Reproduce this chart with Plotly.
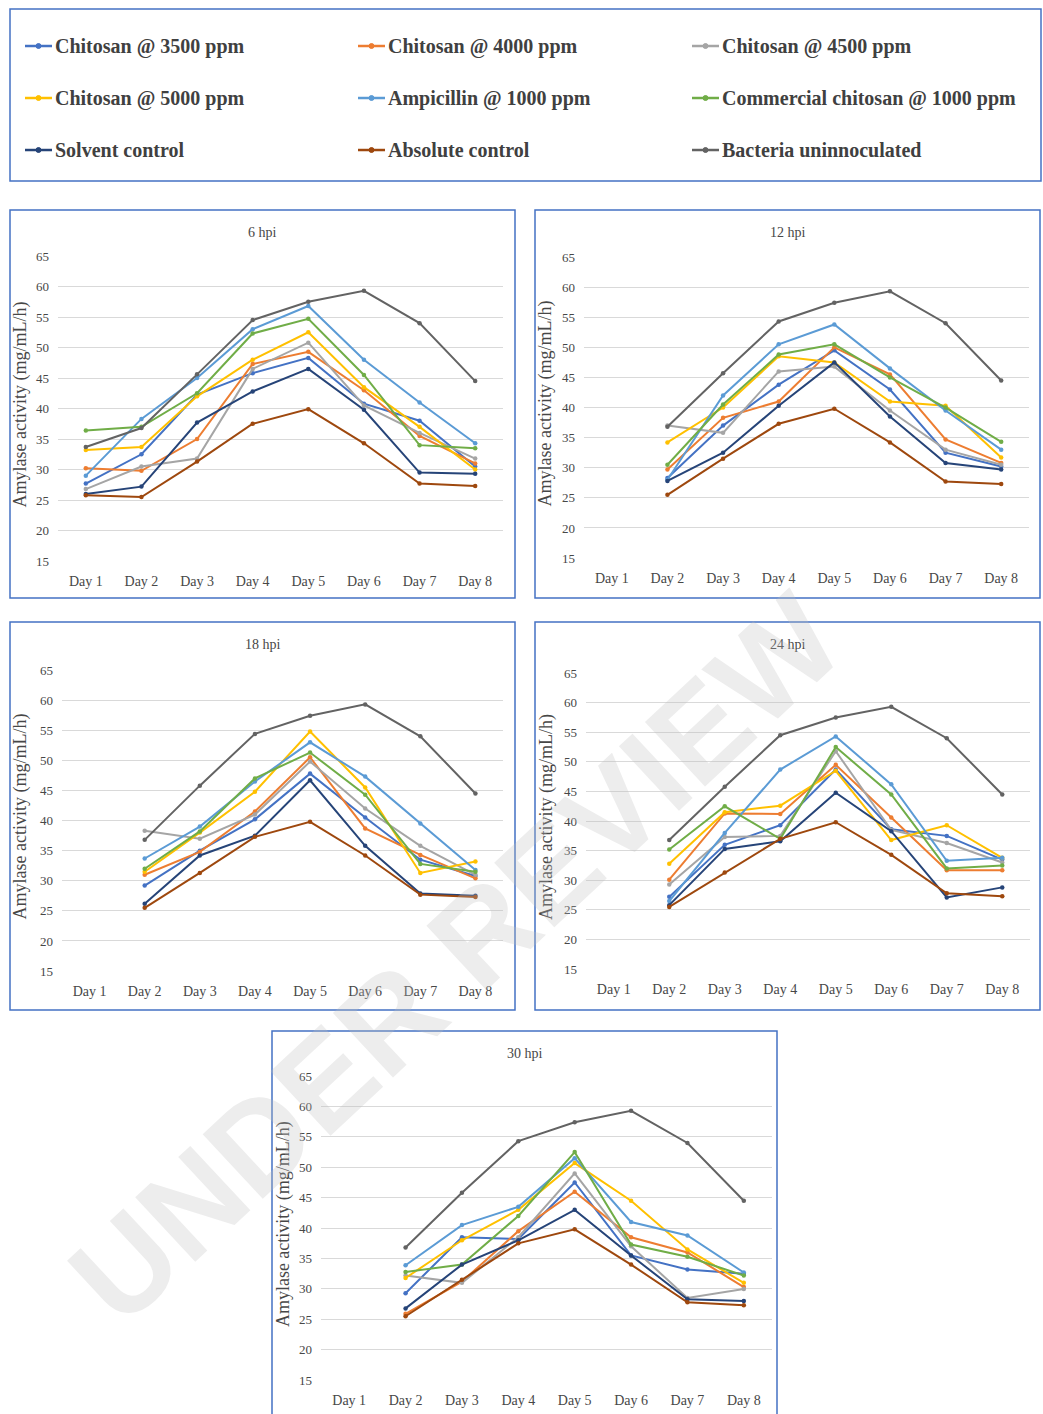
import plotly.graph_objects as go

# ---------------------------------------------------------------- data
days = ["Day 1", "Day 2", "Day 3", "Day 4", "Day 5", "Day 6", "Day 7", "Day 8"]

series_names = [
    "Chitosan @ 3500 ppm", "Chitosan @ 4000 ppm", "Chitosan @ 4500 ppm",
    "Chitosan @ 5000 ppm", "Ampicillin @ 1000 ppm", "Commercial chitosan @ 1000 ppm",
    "Solvent control", "Absolute control", "Bacteria uninnoculated",
]
series_colors = [
    "#4472C4", "#ED7D31", "#A5A5A5", "#FFC000", "#5B9BD5",
    "#70AD47", "#264478", "#9E480E", "#636363",
]

panel_titles = ["6 hpi", "12 hpi", "18 hpi", "24 hpi", "30 hpi"]

# amylase activity (mg/mL/h), one row per series, Day 1 .. Day 8
hpi_6 = [
    [27.7, 32.5, 42.3, 45.8, 48.3, 40.8, 38.0, 30.5],
    [30.2, 29.8, 35.0, 47.3, 49.3, 43.0, 35.5, 31.0],
    [26.8, 30.5, 31.8, 46.5, 50.8, 40.5, 36.0, 31.8],
    [33.2, 33.7, 42.0, 48.0, 52.5, 43.5, 37.0, 30.0],
    [29.0, 38.3, 45.0, 53.0, 56.8, 48.0, 41.0, 34.3],
    [36.4, 37.0, 42.5, 52.3, 54.7, 45.5, 34.0, 33.5],
    [26.0, 27.2, 37.7, 42.8, 46.5, 39.8, 29.5, 29.3],
    [25.8, 25.5, 31.3, 37.5, 39.9, 34.3, 27.7, 27.3],
    [33.7, 36.8, 45.6, 54.5, 57.5, 59.3, 54.0, 44.5],
]
hpi_12 = [
    [None, 28.3, 37.0, 43.8, 49.5, 43.0, 32.5, 30.2],
    [None, 29.7, 38.3, 41.0, 50.0, 45.5, 34.7, 30.8],
    [None, 37.0, 35.8, 46.0, 46.8, 39.5, 33.0, 30.5],
    [None, 34.2, 40.0, 48.5, 47.5, 41.0, 40.3, 31.7],
    [None, 28.0, 42.0, 50.5, 53.8, 46.5, 39.5, 33.0],
    [None, 30.5, 40.5, 48.8, 50.5, 45.0, 40.0, 34.3],
    [None, 27.8, 32.5, 40.3, 47.5, 38.5, 30.8, 29.7],
    [None, 25.5, 31.5, 37.3, 39.8, 34.2, 27.7, 27.3],
    [None, 36.8, 45.7, 54.3, 57.4, 59.3, 54.0, 44.5],
]
hpi_18 = [
    [None, 29.2, 35.0, 40.2, 47.8, 40.5, 33.5, 30.8],
    [None, 31.0, 34.8, 41.5, 50.5, 38.7, 34.3, 30.4],
    [None, 38.3, 37.0, 41.0, 49.8, 42.0, 35.8, 31.0],
    [None, 31.5, 38.0, 44.8, 54.8, 45.5, 31.3, 33.2],
    [None, 33.7, 39.0, 46.5, 53.0, 47.3, 39.5, 31.8],
    [None, 32.0, 38.2, 47.0, 51.3, 44.3, 32.8, 31.5],
    [None, 26.2, 34.2, 37.5, 46.7, 35.8, 27.9, 27.5],
    [None, 25.5, 31.3, 37.3, 39.8, 34.2, 27.7, 27.3],
    [None, 36.8, 45.8, 54.4, 57.4, 59.3, 54.0, 44.5],
]
hpi_24 = [
    [None, 27.2, 36.0, 39.3, 48.7, 38.6, 37.5, 33.5],
    [None, 30.1, 41.3, 41.2, 49.5, 40.6, 31.7, 31.7],
    [None, 29.3, 37.3, 37.5, 51.8, 38.5, 36.3, 33.0],
    [None, 32.8, 41.5, 42.6, 48.5, 36.8, 39.3, 33.8],
    [None, 26.5, 38.0, 48.7, 54.3, 46.2, 33.3, 33.8],
    [None, 35.2, 42.5, 37.0, 52.5, 44.5, 32.0, 32.5],
    [None, 25.8, 35.3, 36.6, 44.8, 38.3, 27.1, 28.8],
    [None, 25.5, 31.3, 37.0, 39.8, 34.3, 27.8, 27.3],
    [None, 36.8, 45.8, 54.5, 57.5, 59.3, 54.0, 44.5],
]
hpi_30 = [
    [None, 29.3, 38.5, 38.2, 47.5, 35.5, 33.2, 32.5],
    [None, 25.9, 31.2, 39.5, 46.0, 38.5, 36.0, 30.3],
    [None, 32.2, 31.0, 38.5, 49.0, 37.0, 28.5, 30.0],
    [None, 31.8, 38.0, 43.0, 50.7, 44.5, 36.5, 31.0],
    [None, 33.9, 40.5, 43.5, 51.5, 41.0, 38.8, 32.7],
    [None, 32.8, 34.0, 42.0, 52.5, 37.3, 35.3, 32.2],
    [None, 26.8, 34.0, 38.0, 43.0, 35.5, 28.3, 28.0],
    [None, 25.5, 31.5, 37.5, 39.8, 34.0, 27.8, 27.3],
    [None, 36.8, 45.8, 54.3, 57.4, 59.3, 54.0, 44.5],
]
panel_data = [hpi_6, hpi_12, hpi_18, hpi_24, hpi_30]

y_ticks = [15, 20, 25, 30, 35, 40, 45, 50, 55, 60, 65]

# ---------------------------------------------------------------- layout helpers
W, H = 1043, 1414
SERIF = "Liberation Serif, Times New Roman, serif"
TEXT_GREY = "#474747"
FRAME_BLUE = "#4472C4"

# the page adds a thin top/bottom gutter around the figure; these two
# constants place page-pixel positions correctly inside the figure
PAGE_OFFSET = 7.0
PAGE_SCALE = 0.9893


def px_x(x):
    return x / W


def px_y(y):
    return 1 - ((y - PAGE_OFFSET) / PAGE_SCALE) / H


# (frame box, plot area) in page pixels: (left, top, right, bottom)
panels = [
    ((10, 210, 515, 598), (58, 256, 503, 561)),
    ((535, 210, 1040, 598), (584, 257, 1029, 558)),
    ((10, 622, 515, 1010), (62, 670, 503, 971)),
    ((535, 622, 1040, 1010), (586, 673, 1030, 969)),
    ((272, 1031, 777, 1420), (321, 1076, 772, 1380)),
]

fig = go.Figure()
shapes = []
annotations = []

for i, (title, rows, (frame, plot)) in enumerate(zip(panel_titles, panel_data, panels)):
    n = "" if i == 0 else str(i + 1)
    xa, ya = "x" + n, "y" + n
    for name, color, vals in zip(series_names, series_colors, rows):
        fig.add_trace(go.Scatter(
            x=days, y=vals, name=name, mode="lines+markers",
            line=dict(color=color, width=2),
            marker=dict(color=color, size=4.5),
            xaxis=xa, yaxis=ya, showlegend=False, connectgaps=False,
            hoverinfo="skip",
        ))
    l, t, r, b = plot
    fig.layout["xaxis" + n] = dict(
        domain=[px_x(l), px_x(r)], anchor=ya, type="category",
        categoryorder="array", categoryarray=days, range=[-0.5, 7.5],
        showgrid=False, zeroline=False, showline=False, ticks="",
        tickfont=dict(family=SERIF, size=14, color=TEXT_GREY),
        ticklabelstandoff=10,
    )
    fig.layout["yaxis" + n] = dict(
        domain=[px_y(b), px_y(t)], anchor=xa, range=[15, 65],
        tickvals=y_ticks, showgrid=True, gridcolor="#D9D9D9", gridwidth=1,
        zeroline=False, showline=False, ticks="",
        tickfont=dict(family=SERIF, size=13, color=TEXT_GREY),
        ticklabelstandoff=8,
    )
    fl, ft, fr, fb = frame
    shapes.append(dict(type="rect", xref="paper", yref="paper",
                       x0=px_x(fl), x1=px_x(fr), y0=px_y(fb), y1=px_y(ft),
                       line=dict(color=FRAME_BLUE, width=1.5), layer="below"))
    annotations.append(dict(text=title, xref="paper", yref="paper",
                            x=px_x((fl + fr) / 2), y=px_y(ft + 22),
                            showarrow=False, xanchor="center", yanchor="middle",
                            font=dict(family=SERIF, size=14, color=TEXT_GREY)))
    annotations.append(dict(text="Amylase activity (mg/mL/h)", xref="paper", yref="paper",
                            x=px_x(fl + 11), y=px_y((t + b) / 2 - 4), textangle=-90,
                            showarrow=False, xanchor="center", yanchor="middle",
                            font=dict(family=SERIF, size=18, color=TEXT_GREY)))

# ---------------------------------------------------------------- legend box
shapes.append(dict(type="rect", xref="paper", yref="paper",
                   x0=px_x(10), x1=px_x(1041), y0=px_y(181), y1=px_y(9),
                   line=dict(color=FRAME_BLUE, width=1.5)))
col_x = [25, 358, 692]
row_y = [46, 98, 150]
for k, (name, color) in enumerate(zip(series_names, series_colors)):
    cx, cy = col_x[k % 3], row_y[k // 3]
    shapes.append(dict(type="line", xref="paper", yref="paper",
                       x0=px_x(cx), x1=px_x(cx + 27), y0=px_y(cy), y1=px_y(cy),
                       line=dict(color=color, width=2.5)))
    shapes.append(dict(type="circle", xref="paper", yref="paper",
                       x0=px_x(cx + 11), x1=px_x(cx + 16), y0=px_y(cy + 2.5), y1=px_y(cy - 2.5),
                       fillcolor=color, line=dict(color=color, width=1)))
    annotations.append(dict(text="<b>" + name + "</b>", xref="paper", yref="paper",
                            x=px_x(cx + 28), y=px_y(cy), showarrow=False,
                            xanchor="left", yanchor="middle",
                            font=dict(family=SERIF, size=20, color="#404040")))

# ---------------------------------------------------------------- watermark
annotations.append(dict(text="<b>UNDER REVIEW</b>", xref="paper", yref="paper",
                        x=px_x(455), y=px_y(958), showarrow=False, textangle=-43,
                        xanchor="center", yanchor="middle", opacity=0.28,
                        font=dict(family="Liberation Sans, Arial, sans-serif",
                                  size=128, color="#BFBFBF")))

fig.update_layout(
    width=W, height=H, margin=dict(l=0, r=0, t=0, b=0),
    paper_bgcolor="white", plot_bgcolor="white",
    shapes=shapes, annotations=annotations, showlegend=False,
)

fig.write_html("out.html")
